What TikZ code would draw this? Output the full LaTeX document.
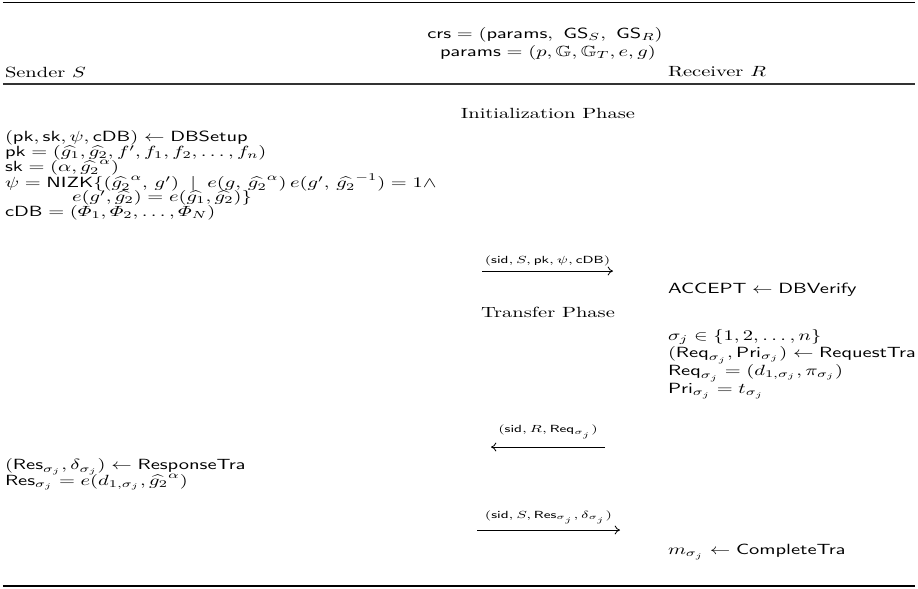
\documentclass[tikz,border=0pt]{standalone}
\usepackage{amsmath,amssymb,graphicx}
\usetikzlibrary{arrows.meta,calc}
\tikzset{
  txt/.style={inner sep=0pt, outer sep=0pt, anchor=west},
  ctr/.style={inner sep=0pt, outer sep=0pt, anchor=center},
  rulebar/.style={line width=0.75pt},
  thinrule/.style={line width=0.55pt, black!80},
  msg/.style={line width=0.4pt, -{To[length=2.6pt,width=4.4pt]}},
  msglab/.style={inner sep=0pt, anchor=south, font=\scriptsize}
}
\newcommand{\sq}[1]{\scalebox{1}[0.72]{#1}}
\newcommand{\gh}[1]{\widehat{g_{#1}}}
\begin{document}
\begin{tikzpicture}[x=0.488pt,y=-0.488pt]
\useasboundingbox (0,0) rectangle (918,588);
% rules
\coordinate (t0) at (3,2.5); \coordinate (t1) at (915,2.5);
\coordinate (m0) at (3,84); \coordinate (m1) at (915,84);
\coordinate (b0) at (3,586); \coordinate (b1) at (915,586);
\draw[rulebar] (t0) -- (t1);
\draw[thinrule] (m0) -- (m1);
\draw[rulebar] (b0) -- (b1);
% header
\node[ctr] (crs) at (545,35) {\sq{$\mathsf{crs} = (\mathsf{params},\ \mathsf{GS}_S,\ \mathsf{GS}_R)$}};
\node[ctr] (params) at (548,53) {\sq{$\mathsf{params} = (p, \mathbb{G}, \mathbb{G}_T, e, g)$}};
\node[txt] (sender) at (5,72) {\sq{Sender $S$}};
\node[txt] (receiver) at (668,72) {\sq{Receiver $R$}};
% init phase
\node[ctr] (init) at (548,113) {\sq{Initialization Phase}};
\node[txt] (l1) at (5,138) {\sq{$(\mathsf{pk}, \mathsf{sk}, \psi, \mathsf{cDB}) \leftarrow \mathsf{DBSetup}$}};
\node[txt] (l2) at (5,153) {\sq{$\mathsf{pk} = (\gh1, \gh2, f', f_1, f_2, \ldots, f_n)$}};
\node[txt] (l3) at (5,168) {\sq{$\mathsf{sk} = (\alpha, {\gh2}^{\alpha})$}};
\node[txt] (l4) at (5,183) {\sq{$\psi = \mathsf{NIZK}\{({\gh2}^{\alpha},\, g') \;\mid\; e(g,\, {\gh2}^{\alpha})\, e(g',\, {\gh2}^{-1}) = 1 \wedge$}};
\node[txt] (l5) at (72,198) {\sq{$e(g', \gh2) = e(\gh1, \gh2)\}$}};
\node[txt] (l6) at (5,213) {\sq{$\mathsf{cDB} = (\varPhi_1, \varPhi_2, \ldots, \varPhi_N)$}};
% message 1
\coordinate (a1s) at (482,271); \coordinate (a1e) at (613,271);
\draw[msg] (a1s) -- (a1e);
\node[msglab] (lab1) at ($(a1s)!0.5!(a1e)+(0,-5)$) {\sq{$(\mathsf{sid}, S, \mathsf{pk}, \psi, \mathsf{cDB})$}};
\node[txt] (acc) at (668,290) {\sq{$\mathsf{ACCEPT} \leftarrow \mathsf{DBVerify}$}};
% transfer phase
\node[ctr] (transfer) at (548,312) {\sq{Transfer Phase}};
\node[txt] (r1) at (668,337) {\sq{$\sigma_j \in \{1, 2, \ldots, n\}$}};
\node[txt] (r2) at (668,355) {\sq{$(\mathsf{Req}_{\sigma_j}, \mathsf{Pri}_{\sigma_j}) \leftarrow \mathsf{RequestTra}$}};
\node[txt] (r3) at (668,373) {\sq{$\mathsf{Req}_{\sigma_j} = (d_{1,\sigma_j}, \pi_{\sigma_j})$}};
\node[txt] (r4) at (668,391) {\sq{$\mathsf{Pri}_{\sigma_j} = t_{\sigma_j}$}};
% message 2
\coordinate (a2s) at (605,447); \coordinate (a2e) at (491,447);
\draw[msg] (a2s) -- (a2e);
\node[msglab] (lab2) at ($(a2s)!0.5!(a2e)+(0,-8)$) {\sq{$(\mathsf{sid}, R, \mathsf{Req}_{\sigma_j})$}};
\node[txt] (s1) at (5,467) {\sq{$(\mathsf{Res}_{\sigma_j}, \delta_{\sigma_j}) \leftarrow \mathsf{ResponseTra}$}};
\node[txt] (s2) at (5,482) {\sq{$\mathsf{Res}_{\sigma_j} = e(d_{1,\sigma_j}, {\gh2}^{\alpha})$}};
% message 3
\coordinate (a3s) at (477,530); \coordinate (a3e) at (620,530);
\draw[msg] (a3s) -- (a3e);
\node[msglab] (lab3) at ($(a3s)!0.5!(a3e)+(0,-6)$) {\sq{$(\mathsf{sid}, S, \mathsf{Res}_{\sigma_j}, \delta_{\sigma_j})$}};
\node[txt] (fin) at (668,552) {\sq{$m_{\sigma_j} \leftarrow \mathsf{CompleteTra}$}};
\end{tikzpicture}
\end{document}
